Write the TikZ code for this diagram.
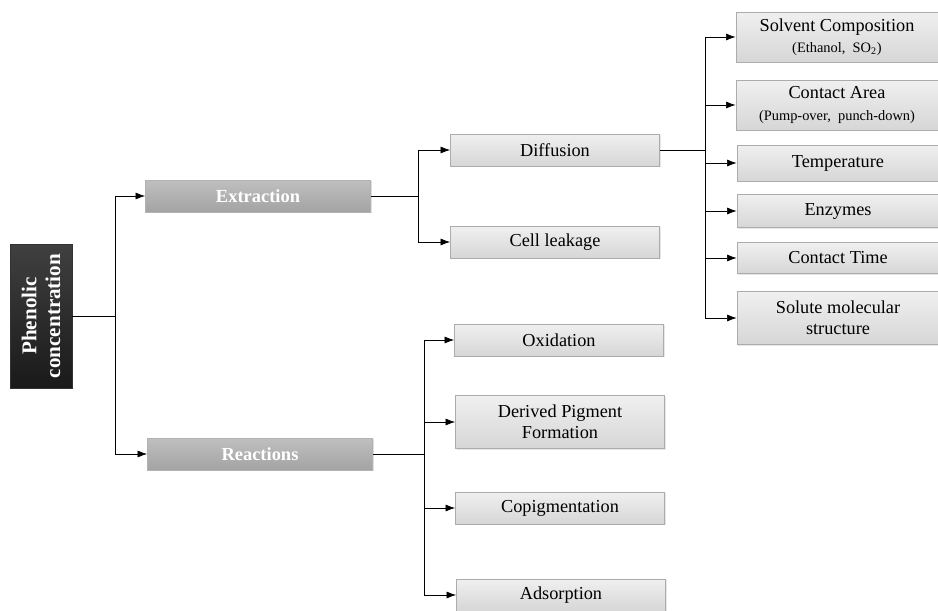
\documentclass[tikz,border=0pt]{standalone}
\usepackage{fontspec}
\setmainfont{Liberation Serif}
\usetikzlibrary{shadows,arrows.meta,calc}
\tikzstyle{rootbox}=[rotate=90,draw=black!80,top color=black!75,middle color=black,bottom color=black!90,text=white,font=\fontsize{12}{13.5}\selectfont\bfseries,align=center,minimum width=2.88cm,minimum height=1.24cm,inner sep=0pt]
\tikzstyle{midbox}=[draw=gray!60,top color=gray!50,bottom color=gray!72,text=white,font=\fontsize{10.5}{12}\selectfont\bfseries,minimum width=4.5cm,minimum height=0.64cm,inner sep=0pt,drop shadow={opacity=0.25,shadow xshift=0.6pt,shadow yshift=-0.6pt}]
\tikzstyle{leafbox}=[draw=gray!65,top color=gray!12,bottom color=gray!32,font=\fontsize{10.4}{12.2}\selectfont,align=center,minimum width=4.18cm,minimum height=0.64cm,inner sep=0pt,drop shadow={opacity=0.2,shadow xshift=0.6pt,shadow yshift=-0.6pt}]
\tikzstyle{edge} = [draw,-{Latex[length=5.5pt,width=4pt]}]
\tikzstyle{stem} = [draw]
\newcommand{\subtxt}[1]{{\fontsize{8.2}{10}\selectfont #1}}

\begin{document}
\begin{tikzpicture}[x=0.02cm,y=-0.02cm]
\useasboundingbox (0,0) rectangle (938,611);

% root
\node[rootbox] (root) at (41,316) {Phenolic\\concentration};

%layer 1
\foreach \pos/\name/\txt in {{(258,196)/ext/Extraction}, {(260,454)/rea/Reactions}}
    \node[midbox] (\name) at \pos {\txt};

%layer 2
\foreach \pos/\name/\txt in {{(555,150)/dif/Diffusion}, {(555,242)/leak/Cell leakage}, {(559,340)/oxi/Oxidation}, {(560,508)/cop/Copigmentation}, {(561,595)/ads/Adsorption}}
    \node[leafbox] (\name) at \pos {\txt};
\node[leafbox,minimum height=1.06cm] (der) at (560,422) {Derived Pigment\\Formation};

%layer 3
\foreach \pos/\name/\h/\txt in {{(837,37)/solv/1.0/{Solvent Composition\\\subtxt{(Ethanol,\ \ SO\textsubscript{2})}}},
    {(837,105)/area/1.0/{Contact Area\\\subtxt{(Pump-over,\ \ punch-down)}}},
    {(838,163)/temp/0.72/Temperature}, {(838,211)/enz/0.66/Enzymes},
    {(838,258)/ctime/0.62/Contact Time}, {(838,318)/solu/1.06/{Solute molecular\\structure}}}
    \node[leafbox,minimum width=4.04cm,minimum height=\h cm] (\name) at \pos {\txt};

% junctions
\coordinate (j0) at (115,316);
\coordinate (j1) at (418,196);
\coordinate (j2) at (424,454);
\coordinate (j3) at (705,150);

% connectors
\path[stem] (root) -- (j0);
\foreach \dest in {ext, rea}
    \path[edge] (j0) |- (\dest);

\path[stem] (ext) -- (j1);
\foreach \dest in {dif, leak}
    \path[edge] (j1) |- (\dest);

\path[stem] (rea) -- (j2);
\foreach \dest in {oxi, der, cop, ads}
    \path[edge] (j2) |- (\dest);

\path[stem] (dif) -- (j3);
\foreach \dest in {solv, area, temp, enz, ctime, solu}
    \path[edge] (j3) |- (\dest);

\end{tikzpicture}
\end{document}
